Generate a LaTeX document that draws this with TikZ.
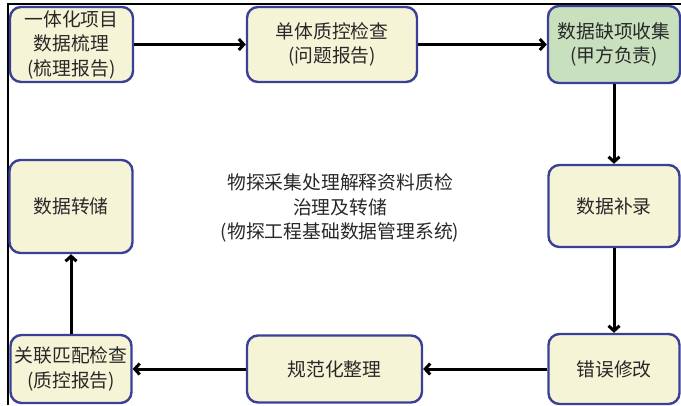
\documentclass[tikz,border=0pt]{standalone}
\usepackage{fontspec}
\setmainfont{Noto Sans CJK SC}
\usetikzlibrary{arrows.meta}
\definecolor{boxline}{RGB}{58,64,150}
\definecolor{boxfill}{RGB}{246,244,214}
\definecolor{boxgreen}{RGB}{200,224,190}
\definecolor{textgray}{RGB}{40,40,40}
\begin{document}
\begin{tikzpicture}[x=1pt,y=-1pt,every node/.style={draw=boxline,line width=2.4pt,rounded corners=11pt,fill=boxfill,align=center,text=textgray,inner sep=0pt,font=\fontsize{18.8}{24.5}\selectfont},link/.style={line width=3pt,-{Straight Barb[length=5pt,width=11pt]}}]
\useasboundingbox (0,0) rectangle (681,405);
\draw[line width=1.5pt] (681,4) -| (8,405);
\node[minimum width=123pt,minimum height=75pt] (sjsl) at (71.5,44.5) {一体化项目\\数据梳理\\(梳理报告)};
\node[minimum width=170pt,minimum height=75pt] (dtzk) at (332,44.5) {单体质控检查\\(问题报告)};
\node[minimum width=132pt,minimum height=77pt,fill=boxgreen] (qxsj) at (614,44.5) {数据缺项收集\\(甲方负责)};
\node[minimum width=131pt,minimum height=82pt] (sjbl) at (614,206) {数据补录};
\node[minimum width=131pt,minimum height=70pt] (cwxg) at (614,369) {错误修改};
\node[minimum width=175pt,minimum height=67pt] (gfzl) at (334.5,369) {规范化整理};
\node[minimum width=121pt,minimum height=68pt] (glpp) at (71,369) {关联匹配检查\\(质控报告)};
\node[minimum width=123pt,minimum height=93pt] (sjzc) at (71,206.5) {数据转储};
\node[draw=none,fill=none] (xtsm) at (340,208) {物探采集处理解释资料质检\\治理及转储\\(物探工程基础数据管理系统)};
\draw[link] (sjsl)--(dtzk);\draw[link] (dtzk)--(qxsj);\draw[link] (qxsj)--(sjbl);\draw[link] (sjbl)--(cwxg);
\draw[link] (cwxg)--(gfzl);\draw[link] (gfzl)--(glpp);\draw[link] (glpp)--(sjzc);
\end{tikzpicture}
\end{document}
